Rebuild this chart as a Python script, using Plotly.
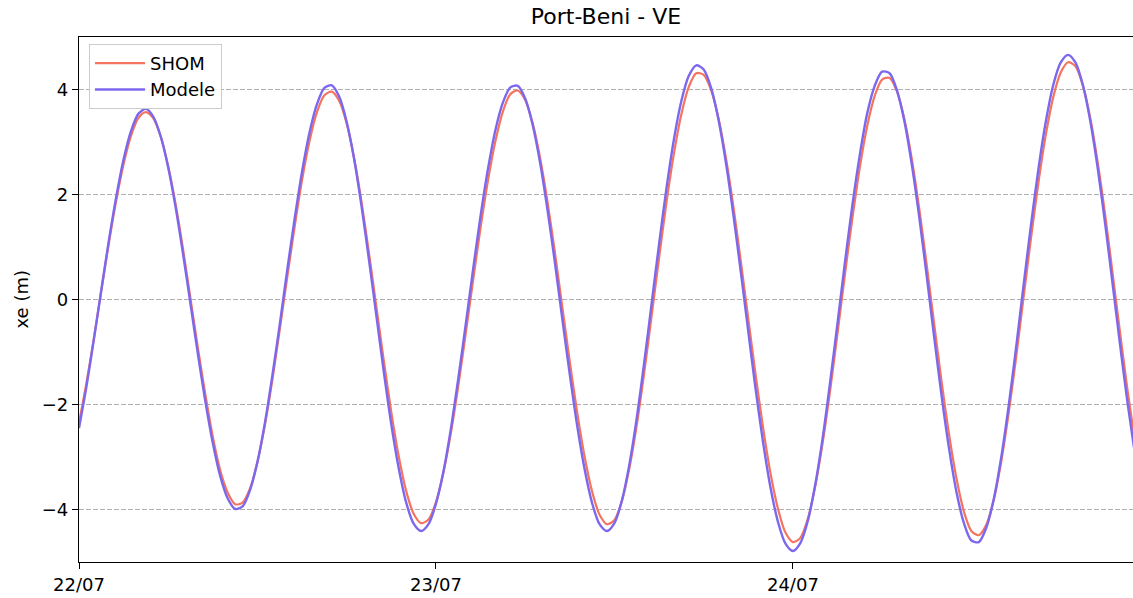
import pandas as pd
import plotly.graph_objects as go

# Water level (m) at Port-Beni, every 30 minutes from 22/07 00:00
start = "2023-07-22 00:00"
step = "30min"

shom = [
    -2.35, -1.59, -0.74, 0.17, 1.06, 1.88, 2.58, 3.12, 3.46, 3.57, 3.45, 3.10,
    2.54, 1.81, 0.95, 0.01, -0.93, -1.82, -2.62, -3.26, -3.68, -3.90, -3.87, -3.60,
    -3.09, -2.39, -1.53, -0.57, 0.42, 1.39, 2.28, 3.02, 3.57, 3.89, 3.96, 3.78,
    3.35, 2.69, 1.85, 0.88, -0.15, -1.18, -2.15, -2.99, -3.65, -4.08, -4.26, -4.19,
    -3.86, -3.30, -2.55, -1.65, -0.65, 0.37, 1.37, 2.27, 3.02, 3.58, 3.91, 3.98,
    3.80, 3.36, 2.70, 1.86, 0.89, -0.15, -1.19, -2.16, -3.00, -3.66, -4.10, -4.28,
    -4.20, -3.84, -3.22, -2.39, -1.40, -0.31, 0.79, 1.85, 2.78, 3.53, 4.05, 4.31,
    4.28, 3.99, 3.45, 2.69, 1.77, 0.72, -0.37, -1.45, -2.45, -3.32, -3.99, -4.44,
    -4.62, -4.54, -4.18, -3.56, -2.73, -1.74, -0.64, 0.48, 1.55, 2.52, 3.31, 3.88,
    4.19, 4.22, 3.96, 3.43, 2.67, 1.72, 0.65, -0.47, -1.57, -2.57, -3.41, -4.04,
    -4.41, -4.49, -4.29, -3.82, -3.10, -2.18, -1.12, 0.02, 1.15, 2.21, 3.13, 3.85,
    4.32, 4.52, 4.44, 4.07, 3.45, 2.60, 1.60, 0.49, -0.64, -1.73, -2.71,
]

modele = [
    -2.45, -1.66, -0.76, 0.18, 1.11, 1.95, 2.67, 3.21, 3.54, 3.63, 3.48, 3.10,
    2.51, 1.75, 0.86, -0.09, -1.05, -1.95, -2.74, -3.37, -3.79, -3.99, -3.94, -3.63,
    -3.09, -2.35, -1.45, -0.47, 0.56, 1.54, 2.44, 3.18, 3.72, 4.03, 4.08, 3.86,
    3.38, 2.67, 1.77, 0.75, -0.32, -1.39, -2.38, -3.22, -3.87, -4.27, -4.41, -4.28,
    -3.89, -3.28, -2.47, -1.51, -0.48, 0.58, 1.59, 2.49, 3.23, 3.75, 4.04, 4.07,
    3.83, 3.33, 2.61, 1.71, 0.70, -0.38, -1.43, -2.41, -3.24, -3.88, -4.28, -4.41,
    -4.26, -3.83, -3.15, -2.26, -1.21, -0.08, 1.05, 2.12, 3.05, 3.78, 4.26, 4.46,
    4.38, 4.03, 3.42, 2.60, 1.61, 0.52, -0.61, -1.72, -2.73, -3.59, -4.24, -4.65,
    -4.79, -4.64, -4.22, -3.53, -2.64, -1.58, -0.45, 0.71, 1.80, 2.76, 3.55, 4.07,
    4.34, 4.31, 3.98, 3.39, 2.56, 1.56, 0.44, -0.72, -1.84, -2.84, -3.67, -4.26,
    -4.59, -4.62, -4.35, -3.81, -3.02, -2.04, -0.93, 0.25, 1.40, 2.47, 3.38, 4.08,
    4.51, 4.66, 4.51, 4.08, 3.39, 2.49, 1.43, 0.29, -0.87, -1.97, -2.95,
]

y_ticks = [-4, -2, 0, 2, 4]

t_shom = pd.date_range(start, periods=len(shom), freq=step)
t_modele = pd.date_range(start, periods=len(modele), freq=step)

FONT = "DejaVu Sans"

fig = go.Figure()
fig.add_trace(go.Scatter(
    x=t_shom, y=shom, name="SHOM", mode="lines",
    line=dict(color="#f4745f", width=2.2, shape="spline", smoothing=0.8),
))
fig.add_trace(go.Scatter(
    x=t_modele, y=modele, name="Modele", mode="lines",
    line=dict(color="#7b68ee", width=2.4, shape="spline", smoothing=0.8),
))

fig.update_layout(
    width=1133, height=598,
    margin=dict(l=79, r=0, t=37, b=36),
    paper_bgcolor="white", plot_bgcolor="white",
    font=dict(family=FONT, size=18, color="black"),
    title=dict(text="Port-Beni - VE", x=606 / 1133, xanchor="center",
               y=1 - 16 / 598, yanchor="middle", yref="container",
               font=dict(family=FONT, size=22, color="black")),
    showlegend=True,
    legend=dict(x=0.0095, y=0.987, xanchor="left", yanchor="top",
                bgcolor="rgba(255,255,255,0.8)", bordercolor="#cccccc",
                borderwidth=1, font=dict(family=FONT, size=18, color="black"),
                tracegroupgap=0, itemwidth=50),
)

fig.update_xaxes(
    type="date",
    range=["2023-07-22 00:00", "2023-07-24 22:52"],
    dtick=86400000, tick0="2023-07-22", tickformat="%d/%m",
    showgrid=False, zeroline=False,
    showline=True, linecolor="black", linewidth=1.3, mirror=True,
    ticks="outside", ticklen=6, tickwidth=1.2, tickcolor="black",
    tickfont=dict(family=FONT, size=18, color="black"),
)

fig.update_yaxes(
    range=[-5, 5],
    tickvals=y_ticks,
    showgrid=True, gridcolor="#b0b0b0", gridwidth=1, griddash="5px,2px",
    zeroline=False,
    showline=True, linecolor="black", linewidth=1.3,
    ticks="outside", ticklen=6, tickwidth=1.2, tickcolor="black",
    tickfont=dict(family=FONT, size=18, color="black"),
)

fig.add_annotation(
    text="xe (m)", textangle=-90, showarrow=False,
    xref="paper", yref="paper", x=(21 - 79) / 1054, y=0.5,
    xanchor="center", yanchor="middle",
    font=dict(family=FONT, size=18, color="black"),
)

fig.write_html("out.html")
